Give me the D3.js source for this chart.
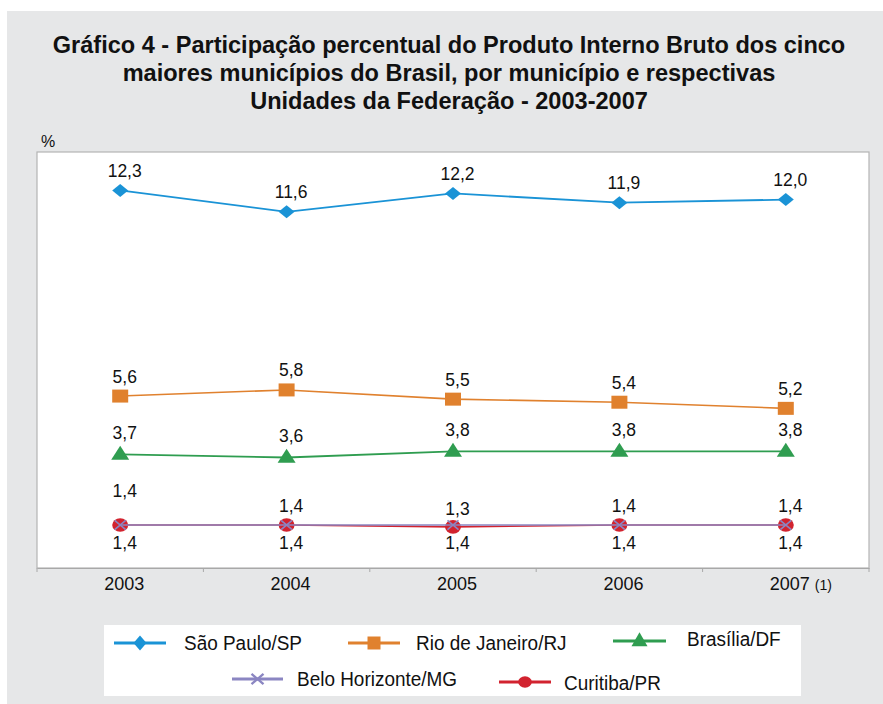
<!DOCTYPE html>
<html><head><meta charset="utf-8">
<script src="https://cdn.jsdelivr.net/npm/d3@7"></script>
<style>
html,body{margin:0;padding:0;background:#fff;}
svg{display:block;}
text{font-family:"Liberation Sans",Arial,Helvetica,sans-serif;fill:#111;}
</style></head>
<body><svg id="c" width="883" height="704"></svg>
<script>
// ---- data ----
const titleLines = [
  "Gráfico 4 - Participação percentual do Produto Interno Bruto dos cinco",
  "maiores municípios do Brasil, por município e respectivas",
  "Unidades da Federação - 2003-2007"
];
const years = ["2003", "2004", "2005", "2006", "2007"];
const yearNotes = ["", "", "", "", "(1)"];
const unitLabel = "%";
const saoPaulo = [12.3, 11.6, 12.2, 11.9, 12.0];
const rioDeJaneiro = [5.6, 5.8, 5.5, 5.4, 5.2];
const brasilia = [3.7, 3.6, 3.8, 3.8, 3.8];
const beloHorizonte = [1.4, 1.4, 1.4, 1.4, 1.4];
const curitiba = [1.4, 1.4, 1.34, 1.4, 1.4];
const seriesNames = ["São Paulo/SP", "Rio de Janeiro/RJ", "Brasília/DF", "Belo Horizonte/MG", "Curitiba/PR"];

// ---- layout ----
const svg = d3.select("#c");
svg.append("rect").attr("x", 7).attr("y", 11).attr("width", 876).attr("height", 693).attr("fill", "#e6e7e8");

const plot = {left: 37, right: 869, top: 152, bottom: 568};
const x = d3.scaleBand().domain(years).range([plot.left, plot.right]).padding(0);
const cx = d => x(d) + x.bandwidth() / 2;
const y = d3.scaleLinear().domain([0, 13.55]).range([plot.bottom, plot.top]);

// title (condensed look: tall font squeezed to the reference width)
const tg = svg.append("g");
titleLines.forEach((t, i) => {
  tg.append("text").attr("x", 449).attr("y", 53 + i * 28)
    .attr("text-anchor", "middle").attr("font-weight", "bold")
    .attr("font-size", 24.5)
    .text(t);
});
(function(){
  const w = tg.select("text").node().getComputedTextLength();
  const s = 793 / w;
  tg.attr("transform", `translate(449,0) scale(${s},1) translate(-449,0)`);
})();

svg.append("text").attr("x", 41).attr("y", 147).attr("font-size", 16).text(unitLabel);

// plot area
svg.append("rect").attr("x", plot.left).attr("y", plot.top)
  .attr("width", plot.right - plot.left).attr("height", plot.bottom - plot.top)
  .attr("fill", "#fff").attr("stroke", "#b4b4b4").attr("stroke-width", 1.2);

// x axis
const ax = svg.append("g").attr("transform", `translate(0,${plot.bottom})`)
  .call(d3.axisBottom(x).tickSize(0).tickPadding(0).tickFormat(""));
ax.select(".domain").attr("stroke", "#a8a8a8").attr("stroke-width", 1.2);
const edges = years.map(d => x(d)).concat([x(years[years.length - 1]) + x.bandwidth()]);
ax.selectAll("line.edge").data(edges).join("line").attr("class", "edge")
  .attr("x1", d => d).attr("x2", d => d).attr("y1", 0).attr("y2", 4)
  .attr("stroke", "#a8a8a8").attr("stroke-width", 1);
years.forEach((yr, i) => {
  const t = svg.append("text").attr("x", cx(yr) + 4).attr("y", 590)
    .attr("text-anchor", "middle").attr("font-size", 18).text(yr);
  if (yearNotes[i]) {
    const w = t.node().getComputedTextLength();
    svg.append("text").attr("x", cx(yr) + 4 + w / 2 + 5).attr("y", 590)
      .attr("font-size", 14).text(yearNotes[i]);
  }
});

// markers
function diamond(w, h){ return `M0,${-h/2}L${w/2},0L0,${h/2}L${-w/2},0Z`; }
function square(w, h){ return `M${-w/2},${-h/2}h${w}v${h}h${-w}Z`; }
function triangle(w, h){ return `M0,${-h*0.62}L${w/2},${h*0.38}L${-w/2},${h*0.38}Z`; }

const series = [
  {name: seriesNames[0], values: saoPaulo, color: "#1a93d6", lw: 1.8, marker: "diamond", lab: "above"},
  {name: seriesNames[1], values: rioDeJaneiro, color: "#e0812e", lw: 1.6, marker: "square", lab: "above"},
  {name: seriesNames[2], values: brasilia, color: "#2f9d50", lw: 1.8, marker: "triangle", lab: "above"},
  {name: seriesNames[4], values: curitiba, color: "#d2232f", lw: 1.6, marker: "circle", lab: "above"},
  {name: seriesNames[3], values: beloHorizonte, color: "#8b86c2", lw: 1.6, marker: "x", lab: "below"}
];

function drawMarker(g, type, color, big) {
  const k = big ? 1 : 0.85;
  if (type === "diamond") g.append("path").attr("d", big ? diamond(16, 13) : diamond(13, 15)).attr("fill", color);
  else if (type === "square") g.append("path").attr("d", big ? square(16, 13) : square(13, 13)).attr("fill", color);
  else if (type === "triangle") g.append("path").attr("d", big ? triangle(18, 14) : triangle(16, 14)).attr("fill", color);
  else if (type === "circle") g.append("ellipse").attr("rx", 8 * k).attr("ry", 6.8 * k).attr("fill", color);
  else if (type === "x") {
    const s = big ? 5.5 : 6;
    g.append("path").attr("d", `M${-s},${-s*0.85}L${s},${s*0.85}M${-s},${s*0.85}L${s},${-s*0.85}`)
      .attr("stroke", color).attr("stroke-width", big ? 1.6 : 2.4).attr("fill", "none");
  }
}

const line = d3.line().x((d, i) => cx(years[i])).y(d => y(d));
series.forEach(s => {
  svg.append("path").datum(s.values).attr("d", line)
    .attr("fill", "none").attr("stroke", s.color).attr("stroke-width", s.lw);
  s.values.forEach((v, i) => {
    const g = svg.append("g").attr("transform", `translate(${cx(years[i])},${y(v)})`);
    drawMarker(g, s.marker, s.color, true);
  });
});

// data labels
const fmt = v => v.toFixed(1).replace(".", ",");
series.forEach(s => {
  s.values.forEach((v, i) => {
    let yy;
    if (s.lab === "above") {
      yy = y(v) - 13.5;
      if (s.marker === "circle" && i === 0) yy -= 15;
      if (s.marker === "circle" && i === 2) yy += 2;
      if (s.marker === "triangle") yy -= 1.5;
    } else {
      yy = y(v) + 24;
    }
    svg.append("text").attr("x", cx(years[i]) + 4.5).attr("y", yy)
      .attr("text-anchor", "middle").attr("font-size", 17.5).text(fmt(v));
  });
});

// legend
svg.append("rect").attr("x", 104).attr("y", 625).attr("width", 697).attr("height", 71).attr("fill", "#fff");
const legendPos = [
  {s: 0, x1: 114, x2: 166, ty: 650, my: 643, tx: 184},
  {s: 1, x1: 348, x2: 400, ty: 650, my: 643, tx: 416},
  {s: 2, x1: 613, x2: 666, ty: 646, my: 641, tx: 687},
  {s: 4, x1: 232, x2: 283, ty: 686, my: 679, tx: 297},
  {s: 3, x1: 499, x2: 551, ty: 690, my: 682, tx: 564}
];
let legendScale = null;
legendPos.forEach(p => {
  const s = series[p.s];
  svg.append("line").attr("x1", p.x1).attr("x2", p.x2).attr("y1", p.my).attr("y2", p.my)
    .attr("stroke", s.color).attr("stroke-width", 3);
  const g = svg.append("g").attr("transform", `translate(${(p.x1 + p.x2) / 2},${p.my})`);
  drawMarker(g, s.marker, s.color, false);
  const t = svg.append("text").attr("x", 0).attr("y", 0).attr("font-size", 19.5).text(s.name);
  if (legendScale === null) legendScale = 118 / t.node().getComputedTextLength();
  t.attr("transform", `translate(${p.tx},${p.ty}) scale(${legendScale},1)`);
});
</script></body></html>
